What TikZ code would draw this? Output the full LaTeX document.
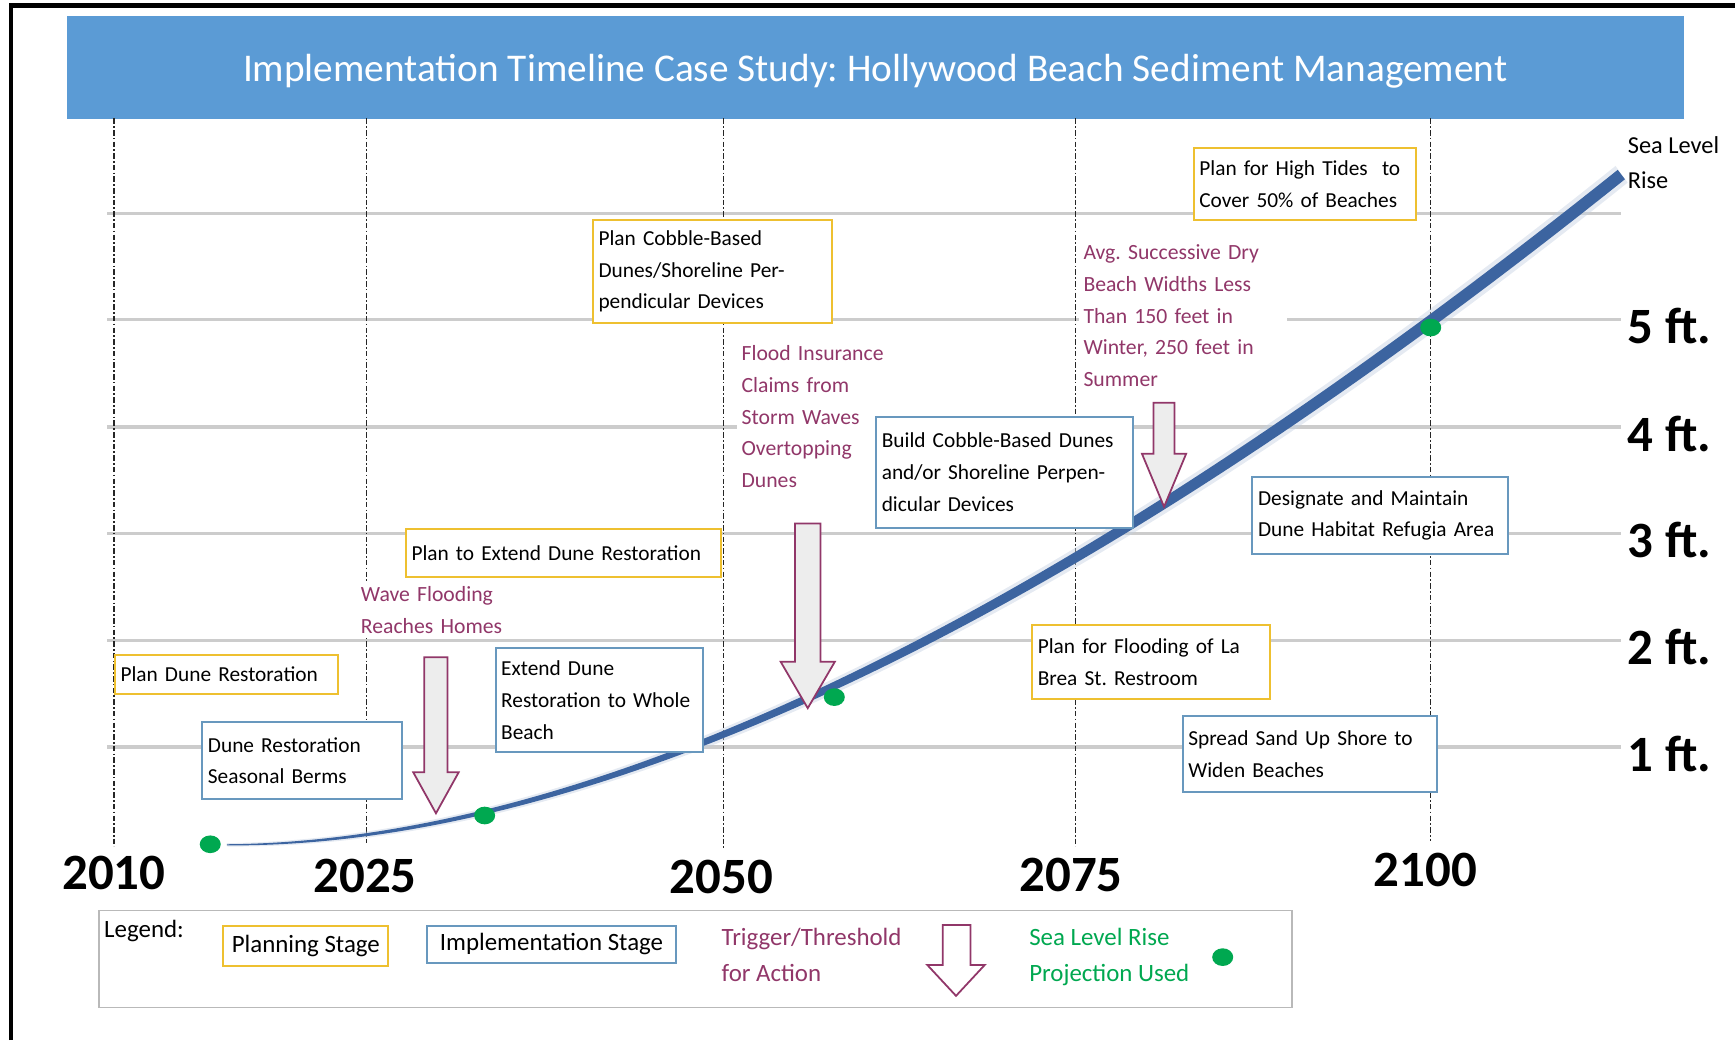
\documentclass[tikz,border=0pt]{standalone}
\usepackage{fontspec}
\setmainfont{Carlito}
\frenchspacing
\definecolor{titleblue}{RGB}{91,155,213}
\definecolor{planyellow}{RGB}{238,192,48}
\definecolor{implblue}{RGB}{104,152,190}
\definecolor{trigpurple}{RGB}{145,55,105}
\definecolor{dotgreen}{RGB}{0,168,80}
\definecolor{slrblue}{RGB}{60,100,160}
\newcommand{\trigarrow}[6]{% x, top, head, tip, half shaft, half head
  \draw[trigarr] (#1-#5,#2) -- (#1+#5,#2) -- (#1+#5,#3) -- (#1+#6,#3) -- (#1,#4) -- (#1-#6,#3) -- (#1-#5,#3) -- cycle;}

\begin{document}
\begin{tikzpicture}[x=1pt,y=-1pt]
        \tikzstyle{every node}=[inner sep=0pt]
        \tikzstyle{box}=[draw,line width=1.8pt,fill=white,anchor=north west,align=left,inner xsep=5pt,inner ysep=2pt,font=\fontsize{19.3}{28.7}\selectfont]
        \tikzstyle{plan}=[box,draw=planyellow]
        \tikzstyle{impl}=[box,draw=implblue]
        \tikzstyle{trigger}=[fill=white,anchor=north west,align=left,inner sep=4pt,text=trigpurple,font=\fontsize{19.6}{28.7}\selectfont]
        \tikzstyle{trigarr}=[draw=trigpurple,line width=1.6pt,fill=gray!14,line join=miter]
        \tikzstyle{hline}=[gray!40,line width=3pt]
        \tikzstyle{vline}=[black!85,line width=1.1pt,dash pattern=on 5pt off 2pt on 1.5pt off 2pt]
        \tikzstyle{year}=[font=\fontsize{46}{50}\selectfont\bfseries]
        \tikzstyle{ftlabel}=[anchor=west,font=\fontsize{46}{50}\selectfont\bfseries]
        \tikzstyle{legendtxt}=[anchor=north west,align=left,font=\fontsize{22.5}{32.5}\selectfont]
        \useasboundingbox (0,0) rectangle (1568,940);
        % frame and title
        \draw[line width=4pt] (10,940) -- (10,5) -- (1568,5);
        \node[fill=titleblue,anchor=north west,minimum width=1462pt,minimum height=93pt] (titlebar) at (60,14) {};
        \node[anchor=base,text=white,font=\fontsize{35.5}{40}\selectfont] (title) at (791,74) {Implementation Timeline Case Study: Hollywood Beach Sediment Management};
        % grid
        \foreach \y in {193,289,386,482,579,675} \draw[hline] (97,\y) -- (1465,\y);
        \foreach \x/\yb in {103/765,331/762,654/768,972/765,1293/760} \draw[vline] (\x,107) -- (\x,\yb);
        \foreach \x/\y/\t in {103/789/2010,330/792/2025,652/793/2050,968/791/2075,1288/786/2100} \node[year] (y\t) at (\x,\y) {\t};
        \foreach \y/\n in {289/5,386/4,482/3,579/2,675/1} \node[ftlabel] (ft\n) at (1471,\y+6) {\n\ ft.};
        \node[anchor=north west,align=left,font=\fontsize{22}{32}\selectfont] (slr) at (1471,123) {Sea Level\\Rise};
        % sea level rise curve
        \fill[slrblue!30,opacity=.45] (205,762) .. controls (620,757) and (1095,442) .. (1460,150) -- (1471,165) .. controls (1106,458) and (620,769) .. (205,765) -- cycle;
        \fill[slrblue] (205,763) .. controls (620,759.5) and (1096.5,445.5) .. (1462,153.5) -- (1468.5,162) .. controls (1103.5,454.5) and (620,766.5) .. (205,764) -- cycle;
        % triggers
        \node[trigger,text width=144pt] (waves) at (322,526) {Wave Flooding\\Reaches Homes};
        \node[trigger,text width=136pt] (claims) at (666,308) {Flood Insurance\\Claims from\\Storm Waves\\Overtopping\\Dunes};
        \node[trigger,text width=180pt] (widths) at (975,217) {Avg. Successive Dry\\Beach Widths Less\\Than 150 feet in\\Winter, 250 feet in\\Summer};
        % actions
        \node[plan,text width=191pt,minimum height=65pt] (tides) at (1078,133) {Plan for High Tides\ \ to\\Cover 50\% of Beaches};
        \node[plan,text width=206pt,minimum height=93pt] (plancobble) at (535,198) {Plan Cobble-Based\\Dunes/Shoreline Per-\\pendicular Devices};
        \node[impl,text width=222pt,minimum height=100pt] (buildcobble) at (791,376) {Build Cobble-Based Dunes\\and/or Shoreline Perpen-\\dicular Devices};
        \node[impl,text width=221pt,minimum height=70pt] (refugia) at (1131,430) {Designate and Maintain\\Dune Habitat Refugia Area};
        \node[plan,text width=275pt,minimum height=44pt] (planextend) at (366,477) {Plan to Extend Dune Restoration};
        \node[plan,text width=192pt,minimum height=35pt] (plandune) at (103,591) {Plan Dune Restoration};
        \node[impl,text width=170pt,minimum height=69pt] (berms) at (182,652) {Dune Restoration\\Seasonal Berms};
        \node[impl,text width=177pt,minimum height=94pt] (extend) at (447,585) {Extend Dune\\Restoration to Whole\\Beach};
        \node[plan,text width=205pt,minimum height=67pt] (restroom) at (932,564) {Plan for Flooding of La\\Brea St. Restroom};
        \node[impl,text width=220pt,minimum height=69pt] (sand) at (1068,646) {Spread Sand Up Shore to\\Widen Beaches};
        \trigarrow{394}{594}{698}{735}{10.5}{20.5}
        \trigarrow{730}{473}{598}{640}{11.5}{24.5}
        \trigarrow{1052}{364}{410}{458}{9.5}{20}
        % projections used
        \foreach \x/\y in {190/763,438/737,754/630,1293/296} \fill[dotgreen] (\x,\y) ellipse [x radius=9.5,y radius=8];
        % legend
        \node[draw=gray!55,line width=1.3pt,fill=white,anchor=north west,minimum width=1078pt,minimum height=88pt] (legend) at (89,822) {};
        \node[legendtxt] (legendlbl) at (94,831) {Legend:};
        \node[plan,align=center,inner xsep=0pt,minimum width=149pt,minimum height=36pt,font=\fontsize{22.5}{28}\selectfont] (lplan) at (201,836) {Planning Stage};
        \node[impl,align=center,inner xsep=0pt,minimum width=225pt,minimum height=33pt,font=\fontsize{22.5}{28}\selectfont] (limpl) at (385,836) {Implementation Stage};
        \node[legendtxt,text=trigpurple] (ltrig) at (652,839) {Trigger/Threshold\\for Action};
        \draw[trigarr,fill=white] (852,836) -- (877,836) -- (877,872) -- (890,872) -- (864,900) -- (838,872) -- (852,872) -- cycle;
        \node[legendtxt,text=dotgreen] (lslr) at (930,839) {Sea Level Rise\\Projection Used};
        \fill[dotgreen] (1105,865) ellipse [x radius=9.5,y radius=8];
\end{tikzpicture}
\end{document}
